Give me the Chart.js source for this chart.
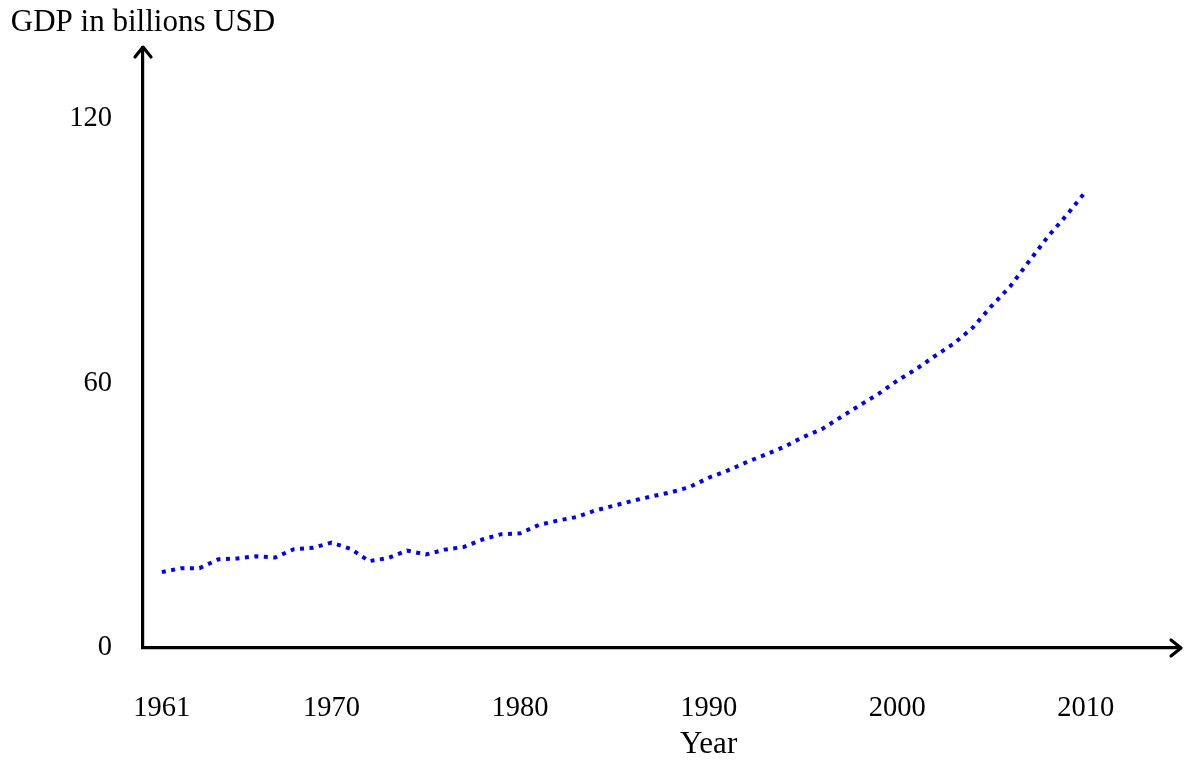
<!DOCTYPE html>
<html>
<head>
<meta charset="utf-8">
<script src="https://cdn.jsdelivr.net/npm/chart.js@4/dist/chart.umd.min.js"></script>
<style>
html,body{margin:0;padding:0;background:#fff;}
#wrap{width:1187px;height:760px;position:relative;}
</style>
</head>
<body>
<div id="wrap"><canvas id="c" width="1187" height="760"></canvas></div>
<script>
const years = [1961,1962,1963,1964,1965,1966,1967,1968,1969,1970,1971,1972,1973,1974,1975,1976,1977,1978,1979,1980,1981,1982,1983,1984,1985,1986,1987,1988,1989,1990,1991,1992,1993,1994,1995,1996,1997,1998,1999,2000,2001,2002,2003,2004,2005,2006,2007,2008,2009,2010];
const gdp = [17.2,18.1,18.1,20.1,20.3,20.8,20.5,22.4,22.7,23.9,22.5,19.7,20.4,22.1,21.2,22.3,22.9,24.6,25.8,26.0,27.9,28.9,29.7,31.2,32.3,33.4,34.4,35.3,36.5,38.6,40.2,42.1,43.8,45.6,47.8,49.6,52.3,55.0,57.6,60.6,63.2,66.2,69.0,72.6,77.5,82.0,87.7,93.3,98.2,103.5];
const xTicks = [1961,1970,1980,1990,2000,2010];
const yTicks = [0,60,120];
const yTitle = "GDP in billions USD";
const xTitle = "Year";

const FONT = "'Liberation Serif', serif";

const arrows = {
  id:'arrows',
  afterDraw(chart){
    const ctx = chart.ctx;
    const xs = chart.scales.x, ys = chart.scales.y;
    const x0 = xs.left, y0 = ys.bottom;
    ctx.save();
    ctx.strokeStyle = '#000';
    ctx.lineWidth = 3.2;
    ctx.lineCap = 'round';
    ctx.lineJoin = 'round';
    ctx.beginPath();
    ctx.moveTo(xs.right - 9, y0 - 8);
    ctx.lineTo(xs.right + 1, y0);
    ctx.lineTo(xs.right - 9, y0 + 8);
    ctx.stroke();
    ctx.beginPath();
    ctx.moveTo(x0 - 8, ys.top + 9);
    ctx.lineTo(x0, ys.top - 1);
    ctx.lineTo(x0 + 8, ys.top + 9);
    ctx.stroke();
    ctx.fillStyle = '#000';
    ctx.font = "31px " + FONT;
    ctx.textAlign = 'center';
    ctx.textBaseline = 'middle';
    ctx.fillText(yTitle, x0, 23);
    ctx.fillText(xTitle, xs.getPixelForValue(1990), 745);
    ctx.restore();
  }
};

new Chart(document.getElementById('c'), {
  type:'line',
  data:{
    datasets:[{
      data: years.map((y,i)=>({x:y, y:gdp[i]})),
      borderColor:'#0000ff',
      borderWidth:4,
      borderDash:[4,5.5],
      borderCapStyle:'butt',
      pointRadius:0,
      tension:0,
      fill:false
    }]
  },
  options:{
    responsive:false,
    animation:false,
    layout:{padding:{top:45,right:7,left:0,bottom:0}},
    plugins:{legend:{display:false},tooltip:{enabled:false}},
    scales:{
      x:{
        type:'linear',
        min:1960, max:2015,
        afterBuildTicks(s){ s.ticks = xTicks.map(v=>({value:v})); },
        afterFit(s){ s.height = 112; },
        grid:{display:false, drawTicks:false},
        border:{display:true, color:'#000', width:3.2},
        ticks:{color:'#000', font:{family:FONT, size:28.5}, padding:43, maxRotation:0, autoSkip:false,
               callback:(v)=>String(v)}
      },
      y:{
        min:0, max:136,
        afterBuildTicks(s){ s.ticks = yTicks.map(v=>({value:v})); },
        afterFit(s){ s.width = 143; },
        grid:{display:false, drawTicks:false},
        border:{display:true, color:'#000', width:3.2},
        ticks:{color:'#000', font:{family:FONT, size:28.5}, padding:31, callback:(v)=>String(v)}
      }
    }
  },
  plugins:[arrows]
});
</script>
</body>
</html>
